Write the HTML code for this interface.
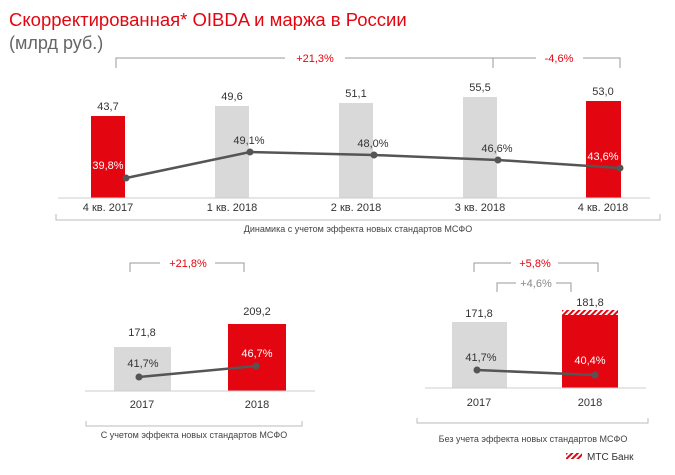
<!DOCTYPE html>
<html><head><meta charset="utf-8"><style>
body{margin:0;background:#fff;}
svg{display:block;font-family:"Liberation Sans",sans-serif;}
</style></head><body>
<svg width="675" height="475" viewBox="0 0 675 475">
<defs>
<pattern id="h" width="4" height="4" patternUnits="userSpaceOnUse" patternTransform="rotate(45)">
<rect width="4" height="4" fill="#fff"/><rect width="2" height="4" fill="#e30611"/></pattern>
</defs>
<text x="9" y="26" font-size="18.5" fill="#e30611">Скорректированная* OIBDA и маржа в России</text>
<text x="9" y="49" font-size="18" fill="#666">(млрд руб.)</text>
<g stroke="#999" fill="none" stroke-width="1">
<path d="M116,68V58H285M345,58H536M493,68V58M583,58H620V68"/>
</g>
<text x="315" y="62" font-size="11" fill="#e30611" text-anchor="middle">+21,3%</text>
<text x="559" y="62" font-size="11" fill="#e30611" text-anchor="middle">-4,6%</text>
<rect x="91" y="116" width="34" height="82" fill="#e30611"/>
<rect x="215" y="106" width="34" height="92" fill="#d9d9d9"/>
<rect x="339" y="103" width="34" height="95" fill="#d9d9d9"/>
<rect x="463" y="97" width="34" height="101" fill="#d9d9d9"/>
<rect x="586" y="101" width="35" height="97" fill="#e30611"/>
<line x1="58" y1="198" x2="650" y2="198" stroke="#ccc"/>
<g font-size="11" fill="#333" text-anchor="middle">
<text x="108" y="110">43,7</text><text x="232" y="100">49,6</text><text x="356" y="97">51,1</text><text x="480" y="91">55,5</text><text x="603" y="95">53,0</text>
<text x="108" y="211">4 кв. 2017</text><text x="232" y="211">1 кв. 2018</text><text x="356" y="211">2 кв. 2018</text><text x="480" y="211">3 кв. 2018</text><text x="603" y="211">4 кв. 2018</text>
<text x="249" y="144">49,1%</text><text x="373" y="147">48,0%</text><text x="497" y="152">46,6%</text>
</g>
<g font-size="11" fill="#fff" text-anchor="middle"><text x="108" y="169">39,8%</text><text x="603" y="160">43,6%</text></g>
<polyline points="126,178 250,152 374,155 498,160 620,168" fill="none" stroke="#555" stroke-width="2.5"/>
<g fill="#555"><circle cx="126" cy="178" r="3.5"/><circle cx="250" cy="152" r="3.5"/><circle cx="374" cy="155" r="3.5"/><circle cx="498" cy="160" r="3.5"/><circle cx="620" cy="168" r="3.5"/></g>
<path d="M56,214V220H660V214" stroke="#bbb" fill="none"/>
<text x="358" y="232" font-size="9" fill="#444" text-anchor="middle">Динамика с учетом эффекта новых стандартов МСФО</text>

<path d="M130,272V263H160M215,263H244V272" stroke="#999" fill="none"/>
<text x="188" y="267" font-size="11" fill="#e30611" text-anchor="middle">+21,8%</text>
<rect x="114" y="347" width="57" height="44" fill="#d9d9d9"/>
<rect x="228" y="324" width="58" height="67" fill="#e30611"/>
<line x1="85" y1="391" x2="315" y2="391" stroke="#ccc"/>
<g font-size="11" fill="#333" text-anchor="middle">
<text x="142" y="336">171,8</text><text x="257" y="315">209,2</text>
<text x="142" y="408">2017</text><text x="257" y="408">2018</text>
<text x="143" y="367">41,7%</text></g>
<text x="257" y="357" font-size="11" fill="#fff" text-anchor="middle">46,7%</text>
<line x1="139" y1="377" x2="256" y2="366" stroke="#555" stroke-width="2.5"/>
<circle cx="139" cy="377" r="3.5" fill="#555"/><circle cx="256" cy="366" r="3.5" fill="#555"/>
<path d="M86,421V426H302V421" stroke="#bbb" fill="none"/>
<text x="194" y="438" font-size="9" fill="#444" text-anchor="middle">С учетом эффекта новых стандартов МСФО</text>

<path d="M474,272V263H511M558,263H598V272" stroke="#999" fill="none"/>
<text x="535" y="267" font-size="11" fill="#e30611" text-anchor="middle">+5,8%</text>
<path d="M497,292V283H516M556,283H571V292" stroke="#999" fill="none"/>
<text x="536" y="287" font-size="11" fill="#888" text-anchor="middle">+4,6%</text>
<rect x="452" y="322" width="55" height="66" fill="#d9d9d9"/>
<rect x="562" y="310" width="56" height="5" fill="url(#h)"/>
<rect x="562" y="315" width="56" height="73" fill="#e30611"/>
<line x1="425" y1="388" x2="646" y2="388" stroke="#ccc"/>
<g font-size="11" fill="#333" text-anchor="middle">
<text x="479" y="317">171,8</text><text x="590" y="306">181,8</text>
<text x="479" y="406">2017</text><text x="590" y="406">2018</text>
<text x="481" y="361">41,7%</text></g>
<text x="590" y="364" font-size="11" fill="#fff" text-anchor="middle">40,4%</text>
<line x1="477" y1="370" x2="595" y2="375" stroke="#555" stroke-width="2.5"/>
<circle cx="477" cy="370" r="3.5" fill="#555"/><circle cx="595" cy="375" r="3.5" fill="#555"/>
<path d="M417,418V423H648V418" stroke="#bbb" fill="none"/>
<text x="533" y="442" font-size="9" fill="#444" text-anchor="middle">Без учета эффекта новых стандартов МСФО</text>
<rect x="566" y="453" width="16" height="6" fill="url(#h)"/>
<text x="587" y="460" font-size="10" fill="#333">МТС Банк</text>
</svg>
</body></html>
